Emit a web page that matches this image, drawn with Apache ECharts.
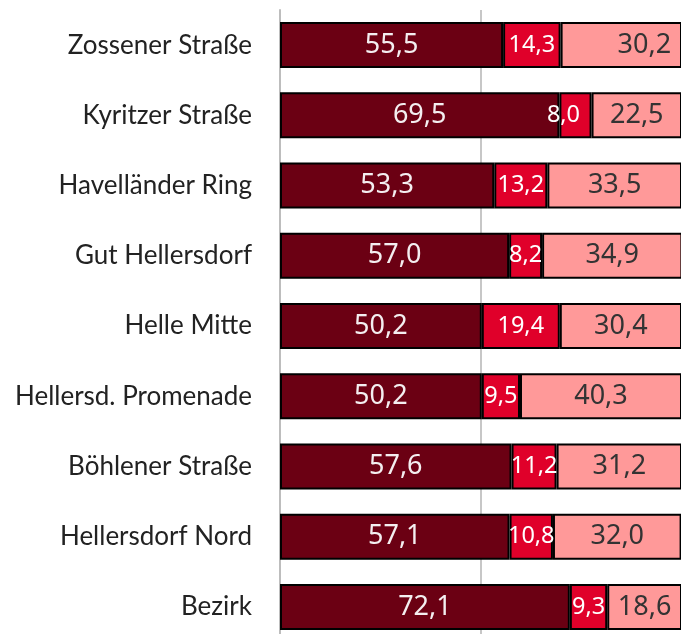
<!DOCTYPE html>
<html><head><meta charset="utf-8">
<script src="https://cdn.jsdelivr.net/npm/echarts@6/dist/echarts.min.js"></script>
<style>html,body{margin:0;padding:0;background:#fff}#c{width:681px;height:634px}</style>
</head><body><div id="c"></div>
<script>
const categories = ['Zossener Straße','Kyritzer Straße','Havelländer Ring','Gut Hellersdorf','Helle Mitte','Hellersd. Promenade','Böhlener Straße','Hellersdorf Nord','Bezirk'];
const seriesA = [55.5, 69.5, 53.3, 57.0, 50.2, 50.2, 57.6, 57.1, 72.1];
const seriesB = [14.3, 8.0, 13.2, 8.2, 19.4, 9.5, 11.2, 10.8, 9.3];
const seriesC = [30.2, 22.5, 33.5, 34.9, 30.4, 40.3, 31.2, 32.0, 18.6];

const fmt = p => p.value.toFixed(1).replace('.', ',');
const numFont = 'Noto Sans';
// label nudges seen in the reference (style only)
const labelNudge = { B: { 1: [-12, 0] }, C: { 0: [23, 0] } };
function mk(key, data, color, lblColor, size) {
  const nud = labelNudge[key] || {};
  return {
    name: key, type: 'bar', stack: 'all', barWidth: 46,
    data: data.map((v, i) => nud[i] ? { value: v, label: { offset: nud[i] } } : v),
    itemStyle: { color, borderColor: '#000', borderWidth: 2 },
    label: { show: true, position: 'inside', formatter: fmt, color: lblColor, fontSize: size, fontFamily: numFont },
    emphasis: { disabled: true }, animation: false
  };
}
const chart = echarts.init(document.getElementById('c'), null, { renderer: 'canvas' });
chart.setOption({
  animation: false,
  grid: { left: 280, top: 10, right: -1, bottom: -8, containLabel: false, outerBoundsMode: 'none' },
  xAxis: { type: 'value', min: 0, max: 100, interval: 50,
    axisLine: { show: false }, axisTick: { show: false }, axisLabel: { show: false },
    splitLine: { show: true, lineStyle: { color: '#b5b5b5', width: 1.5 } } },
  yAxis: { type: 'category', data: categories, inverse: true,
    axisLine: { show: true, lineStyle: { color: '#bdbdbd', width: 2 } },
    axisTick: { show: false },
    axisLabel: { color: '#222', fontSize: 26, fontFamily: 'Lato', margin: 28 } },
  series: [
    mk('A', seriesA, '#6b0013', '#f4eef0', 27),
    mk('B', seriesB, '#e0002a', '#ffffff', 23.5),
    mk('C', seriesC, '#ff9999', '#333333', 27)
  ]
});
</script></body></html>
